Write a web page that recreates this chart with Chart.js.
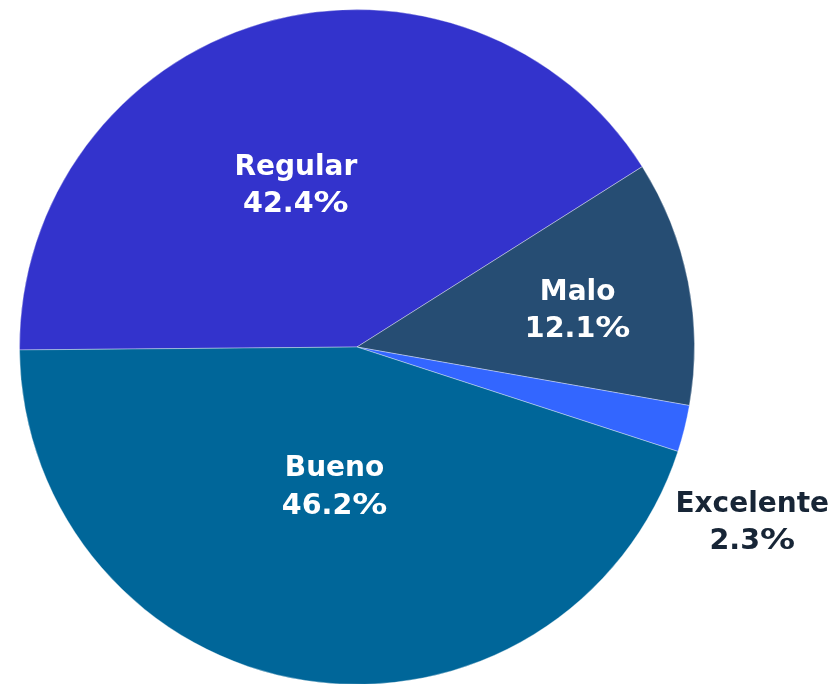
<!DOCTYPE html>
<html>
<head>
<meta charset="utf-8">
<script src="https://cdn.jsdelivr.net/npm/chart.js@4/dist/chart.umd.min.js"></script>
<style>
html,body{margin:0;padding:0;background:#fff;overflow:hidden;width:837px;height:684px;}
#wrap{position:absolute;left:0;top:0;width:837px;height:700px;}
</style>
</head>
<body>
<div id="wrap"><canvas id="c" width="837" height="700"></canvas></div>
<script>
const categories = ["Regular", "Malo", "Excelente", "Bueno"];
const values = [42.4, 12.1, 2.3, 46.2];
const colors = ["#3333CC", "#264D73", "#3366FF", "#006699"];

const labelPlugin = {
  id: 'sliceLabels',
  afterDatasetsDraw(chart, args, opts) {
    const ctx = chart.ctx;
    const meta = chart.getDatasetMeta(0);
    ctx.save();
    ctx.font = 'bold 28px "DejaVu Sans", Verdana, sans-serif';
    ctx.textBaseline = 'middle';
    meta.data.forEach((arc, i) => {
      const p = arc.getProps(['x','y','startAngle','endAngle','outerRadius'], true);
      const cfg = opts.place[i];
      const mid = (p.startAngle + p.endAngle) / 2 + cfg.da * Math.PI / 180;
      const r = p.outerRadius * cfg.f;
      const cx = p.x + Math.cos(mid) * r;
      const cy = p.y + Math.sin(mid) * r;
      ctx.fillStyle = cfg.color;
      const lh = 37.5;
      ctx.textAlign = 'center';
      ctx.fillText(categories[i], cx, cy - lh / 2);
      // number + wide percent sign
      const num = values[i].toFixed(1);
      const wNum = ctx.measureText(num).width * 1.02;
      const pScale = 1.25;
      const wPct = ctx.measureText('%').width * pScale;
      const x0 = cx - (wNum + wPct) / 2;
      const y2 = cy + lh / 2;
      ctx.textAlign = 'left';
      ctx.save();
      ctx.translate(x0, y2);
      ctx.scale(1.02, 1);
      ctx.fillText(num, 0, 0);
      ctx.restore();
      ctx.save();
      ctx.translate(x0 + wNum, y2);
      ctx.scale(pScale, 1);
      ctx.fillText('%', 0, 0);
      ctx.restore();
    });
    ctx.restore();
  }
};

new Chart(document.getElementById('c'), {
  type: 'pie',
  data: {
    labels: categories,
    datasets: [{
      data: values,
      backgroundColor: colors,
      borderColor: 'rgba(255,255,255,0.35)',
      borderWidth: 1,
      hoverOffset: 0
    }]
  },
  options: {
    responsive: false,
    animation: false,
    rotation: -90.5,
    layout: { padding: { left: 19, right: 142, top: 9, bottom: 15 } },
    plugins: {
      legend: { display: false },
      tooltip: { enabled: false },
      sliceLabels: {
        place: [
          { f: 0.51, da: -4.4, color: '#ffffff' },
          { f: 0.662, da: 2.0, color: '#ffffff' },
          { f: 1.282, da: 10.0, color: '#172536' },
          { f: 0.422, da: 0.3, color: '#ffffff' }
        ]
      }
    }
  },
  plugins: [labelPlugin]
});
</script>
</body>
</html>
